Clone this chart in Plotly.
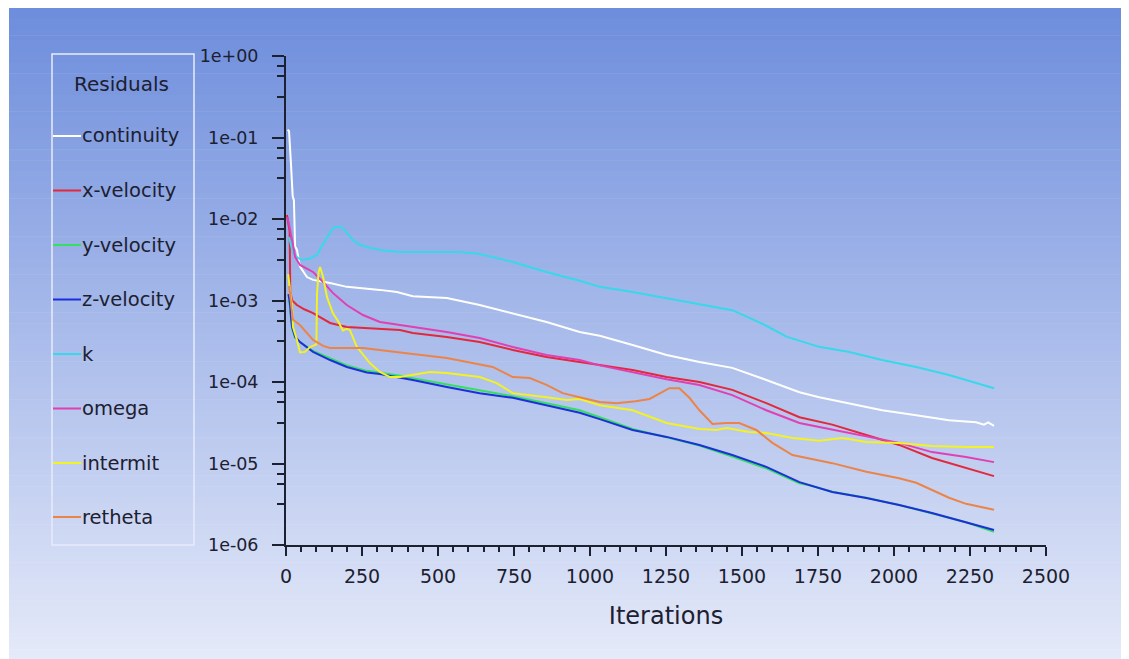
import plotly.graph_objects as go

# ---------------- data ----------------
series_names = ["continuity", "x-velocity", "y-velocity", "z-velocity",
                "k", "omega", "intermit", "retheta"]
series_colors = ["#ffffff", "#e3283c", "#33e060", "#1c2fd8",
                 "#38d8ea", "#e040b4", "#f2f224", "#ec8448"]

continuity_iter = [5, 10, 16, 22, 26, 30, 36, 46, 69, 89, 145, 200, 309, 365, 417,
                   529, 637, 746, 857, 966, 1032, 1140, 1252, 1360, 1468, 1580,
                   1689, 1754, 1853, 1961, 2073, 2181, 2270, 2296, 2310, 2329]
continuity_res = [1.24e-1, 1.2e-1, 5.0e-2, 1.9e-2, 1.7e-2, 4.6e-3, 4.2e-3, 2.6e-3,
                  1.94e-3, 1.79e-3, 1.64e-3, 1.47e-3, 1.35e-3, 1.27e-3, 1.13e-3,
                  1.07e-3, 8.8e-4, 7.0e-4, 5.45e-4, 4.1e-4, 3.7e-4, 2.85e-4,
                  2.15e-4, 1.76e-4, 1.49e-4, 1.06e-4, 7.5e-5, 6.5e-5, 5.5e-5,
                  4.5e-5, 3.9e-5, 3.4e-5, 3.2e-5, 3.0e-5, 3.2e-5, 2.9e-5]

xvel_iter = [3, 8, 12, 14, 20, 36, 60, 89, 145, 200, 309, 375, 417, 529, 637, 746,
             857, 966, 1032, 1140, 1252, 1360, 1468, 1580, 1689, 1754, 1797, 1909,
             2017, 2125, 2237, 2329]
xvel_res = [1.12e-2, 9.0e-3, 7.0e-3, 1.3e-3, 1.0e-3, 8.8e-4, 7.8e-4, 7.0e-4, 5.3e-4,
            4.73e-4, 4.47e-4, 4.35e-4, 4.0e-4, 3.56e-4, 3.1e-4, 2.47e-4, 2.03e-4,
            1.75e-4, 1.62e-4, 1.4e-4, 1.15e-4, 1.0e-4, 8.0e-5, 5.5e-5, 3.7e-5,
            3.3e-5, 3.0e-5, 2.24e-5, 1.69e-5, 1.17e-5, 8.8e-6, 7.0e-6]

yvel_iter = [8, 13, 17, 20, 30, 46, 89, 145, 200, 266, 309, 375, 417, 529, 637, 746,
             857, 966, 1032, 1140, 1252, 1360, 1468, 1580, 1689, 1721, 1797, 1909,
             2017, 2125, 2237, 2329]
yvel_res = [1.0e-3, 8.5e-4, 5.5e-4, 4.5e-4, 3.5e-4, 3.1e-4, 2.4e-4, 1.95e-4, 1.6e-4,
            1.37e-4, 1.3e-4, 1.19e-4, 1.11e-4, 9.3e-5, 7.8e-5, 6.7e-5, 5.5e-5,
            4.5e-5, 3.7e-5, 2.65e-5, 2.1e-5, 1.66e-5, 1.22e-5, 8.7e-6, 5.7e-6,
            5.4e-6, 4.5e-6, 3.8e-6, 3.1e-6, 2.45e-6, 1.9e-6, 1.45e-6]

zvel_iter = [8, 13, 17, 20, 30, 46, 89, 145, 200, 266, 309, 375, 417, 529, 637, 746,
             857, 966, 1032, 1140, 1252, 1360, 1468, 1580, 1689, 1721, 1797, 1909,
             2017, 2125, 2237, 2329]
zvel_res = [1.2e-3, 9.3e-4, 6.0e-4, 4.73e-4, 3.56e-4, 3.1e-4, 2.34e-4, 1.86e-4,
            1.53e-4, 1.31e-4, 1.25e-4, 1.14e-4, 1.06e-4, 8.7e-5, 7.3e-5, 6.4e-5,
            5.2e-5, 4.2e-5, 3.5e-5, 2.58e-5, 2.12e-5, 1.69e-5, 1.27e-5, 9.1e-6,
            5.9e-6, 5.45e-6, 4.47e-6, 3.77e-6, 3.1e-6, 2.47e-6, 1.92e-6, 1.53e-6]

k_iter = [10, 23, 40, 56, 80, 102, 120, 135, 150, 161, 175, 187, 205, 220, 240, 266,
          309, 375, 572, 637, 746, 857, 966, 1032, 1140, 1252, 1360, 1468, 1530,
          1580, 1646, 1754, 1853, 1961, 2073, 2181, 2329]
k_res = [6.0e-3, 3.83e-3, 3.3e-3, 3.14e-3, 3.3e-3, 3.62e-3, 4.8e-3, 6.0e-3, 7.3e-3,
         7.98e-3, 8.0e-3, 7.76e-3, 6.5e-3, 5.52e-3, 4.9e-3, 4.53e-3, 4.17e-3,
         3.94e-3, 3.94e-3, 3.72e-3, 2.97e-3, 2.24e-3, 1.75e-3, 1.47e-3, 1.27e-3,
         1.07e-3, 9.1e-4, 7.6e-4, 6.0e-4, 4.9e-4, 3.6e-4, 2.7e-4, 2.34e-4, 1.86e-4,
         1.53e-4, 1.22e-4, 8.4e-5]

omega_iter = [5, 12, 20, 30, 46, 89, 122, 154, 200, 253, 309, 375, 417, 529, 637,
              746, 857, 966, 1032, 1140, 1252, 1360, 1468, 1580, 1689, 1754, 1797,
              1909, 2017, 2125, 2237, 2329]
omega_res = [1.06e-2, 8.0e-3, 5.5e-3, 3.42e-3, 2.73e-3, 2.24e-3, 1.69e-3, 1.24e-3,
             8.8e-4, 6.64e-4, 5.45e-4, 5.0e-4, 4.73e-4, 4.11e-4, 3.47e-4, 2.69e-4,
             2.15e-4, 1.86e-4, 1.6e-4, 1.33e-4, 1.08e-4, 9.2e-5, 6.9e-5, 4.5e-5,
             3.14e-5, 2.8e-5, 2.6e-5, 2.12e-5, 1.79e-5, 1.38e-5, 1.2e-5, 1.04e-5]

intermit_iter = [7, 13, 20, 23, 36, 46, 62, 79, 95, 100, 102, 107, 112, 122, 135,
                 154, 171, 187, 200, 210, 233, 276, 309, 342, 375, 417, 473, 529,
                 637, 693, 746, 857, 923, 966, 1032, 1140, 1252, 1360, 1416, 1449,
                 1524, 1580, 1666, 1754, 1830, 1909, 2017, 2125, 2237, 2329]
intermit_res = [2.1e-3, 1.3e-3, 8.3e-4, 4.73e-4, 3.28e-4, 2.3e-4, 2.34e-4, 2.69e-4,
                2.85e-4, 2.9e-4, 1.2e-3, 2.2e-3, 2.58e-3, 1.94e-3, 1.1e-3, 7.0e-4,
                5.6e-4, 4.3e-4, 4.5e-4, 4.35e-4, 2.7e-4, 1.71e-4, 1.33e-4, 1.15e-4,
                1.15e-4, 1.22e-4, 1.33e-4, 1.29e-4, 1.15e-4, 9.7e-5, 7.3e-5, 6.5e-5,
                6.0e-5, 6.2e-5, 5.2e-5, 4.5e-5, 3.14e-5, 2.65e-5, 2.58e-5, 2.73e-5,
                2.44e-5, 2.37e-5, 2.06e-5, 1.9e-5, 2.06e-5, 1.84e-5, 1.79e-5,
                1.64e-5, 1.59e-5, 1.59e-5]

retheta_iter = [10, 13, 18, 23, 46, 69, 89, 122, 145, 253, 375, 417, 529, 637, 680,
                746, 802, 857, 910, 966, 1032, 1087, 1150, 1196, 1235, 1261, 1294,
                1327, 1360, 1403, 1449, 1491, 1547, 1600, 1666, 1720, 1797, 1909,
                2017, 2073, 2125, 2181, 2237, 2329]
retheta_res = [1.5e-3, 1.27e-3, 8.0e-4, 5.8e-4, 5.0e-4, 4.0e-4, 3.28e-4, 2.77e-4,
               2.61e-4, 2.61e-4, 2.27e-4, 2.21e-4, 1.97e-4, 1.66e-4, 1.53e-4,
               1.15e-4, 1.12e-4, 9.2e-5, 7.3e-5, 6.5e-5, 5.7e-5, 5.5e-5, 5.8e-5,
               6.2e-5, 7.5e-5, 8.4e-5, 8.4e-5, 6.4e-5, 4.5e-5, 3.05e-5, 3.14e-5,
               3.14e-5, 2.58e-5, 1.79e-5, 1.27e-5, 1.15e-5, 1.01e-5, 7.9e-6, 6.6e-6,
               5.8e-6, 4.7e-6, 3.8e-6, 3.2e-6, 2.7e-6]

series_iters = [continuity_iter, xvel_iter, yvel_iter, zvel_iter,
                k_iter, omega_iter, intermit_iter, retheta_iter]
series_res = [continuity_res, xvel_res, yvel_res, zvel_res,
              k_res, omega_res, intermit_res, retheta_res]

x_tick_vals = [0, 250, 500, 750, 1000, 1250, 1500, 1750, 2000, 2250, 2500]
x_tick_text = ["0", "250", "500", "750", "1000", "1250", "1500", "1750",
               "2000", "2250", "2500"]
y_tick_vals = [1e0, 1e-1, 1e-2, 1e-3, 1e-4, 1e-5, 1e-6]
y_tick_text = ["1e+00", "1e-01", "1e-02", "1e-03", "1e-04", "1e-05", "1e-06"]
legend_title = "Residuals"
x_title = "Iterations"

# ---------------- layout constants ----------------
# the page places the figure 8 px from the window's top-left corner,
# so the figure is drawn in page coordinates shifted by OFF
OFF = 8
W, H = 1129 - OFF, 659 - OFF
PLOT_L, PLOT_R, PLOT_T, PLOT_B = 286, 1046, 56, 545   # page px
ML = PLOT_L - OFF
MT = PLOT_T - OFF
MR = W - (PLOT_R - OFF)
MB = H - (PLOT_B - OFF)
PW = W - ML - MR
PH = H - MT - MB
FONT = "DejaVu Sans"
AX = "#1b2130"
TXT = "#1c2030"


def fx(px):
    """page pixel x -> paper coordinate"""
    return (px - PLOT_L) / PW


def fy(py):
    """page pixel y -> paper coordinate"""
    return (PLOT_B - py) / PH


fig = go.Figure()
for name, it, res, col in zip(series_names, series_iters, series_res, series_colors):
    fig.add_trace(go.Scatter(x=it, y=res, mode="lines", name=name,
                             line=dict(color=col, width=2), showlegend=False))

shapes = []
# vertical gradient background
top_c = (109, 141, 220)
bot_c = (229, 234, 249)
n = 120
g0, g1 = 8, 660
for i in range(n):
    a = g0 + (g1 - g0) * i / n
    b = g0 + (g1 - g0) * (i + 1) / n
    t = (i + 0.5) / n
    c = tuple(round(top_c[j] + (bot_c[j] - top_c[j]) * t) for j in range(3))
    shapes.append(dict(type="rect", xref="paper", yref="paper",
                       x0=fx(9), x1=fx(1132), y0=fy(b + 0.6), y1=fy(a),
                       fillcolor="rgb(%d,%d,%d)" % c, line=dict(width=0),
                       layer="below"))

# legend box
shapes.append(dict(type="rect", xref="paper", yref="paper",
                   x0=fx(52), x1=fx(194), y0=fy(545), y1=fy(54),
                   line=dict(color="#e6ecfb", width=1.5),
                   fillcolor="rgba(0,0,0,0)", layer="below"))

annotations = [dict(text=legend_title, x=fx(121), y=fy(84), xref="paper",
                    yref="paper", xanchor="center", yanchor="middle",
                    showarrow=False, font=dict(family=FONT, size=20, color=TXT))]
entry_y = [136, 190.5, 245, 299.5, 354, 408.5, 463, 517]
for name, col, py in zip(series_names, series_colors, entry_y):
    shapes.append(dict(type="line", xref="paper", yref="paper",
                       x0=fx(53), x1=fx(81), y0=fy(py), y1=fy(py),
                       line=dict(color=col, width=2), layer="below"))
    annotations.append(dict(text=name, x=fx(80), y=fy(py), xref="paper",
                            yref="paper", xanchor="left", yanchor="middle",
                            showarrow=False,
                            font=dict(family=FONT, size=19.5, color=TXT)))

y_minor_vals = []
for d in y_tick_vals[1:]:
    for m in (7.5, 5.62, 3.16):
        y_minor_vals.append(d * m)

fig.update_layout(
    width=W, height=H,
    margin=dict(l=ML, r=MR, t=MT, b=MB, pad=0),
    paper_bgcolor="white",
    plot_bgcolor="rgba(0,0,0,0)",
    shapes=shapes,
    annotations=annotations,
    showlegend=False,
    font=dict(family=FONT, color=TXT),
    xaxis=dict(
        range=[0, 2500], tickmode="array", tickvals=x_tick_vals,
        ticktext=x_tick_text, ticks="outside", ticklen=9, tickwidth=2,
        tickcolor=AX, showline=True, linewidth=2, linecolor=AX,
        showgrid=False, zeroline=False, automargin=False,
        ticklabelstandoff=4,
        tickfont=dict(family=FONT, size=19, color=TXT),
        minor=dict(tickmode="linear", tick0=0, dtick=50, ticks="outside",
                   ticklen=5, tickwidth=1.5, tickcolor=AX, showgrid=False),
        title=dict(text=x_title, standoff=21,
                   font=dict(family=FONT, size=24, color=TXT)),
    ),
    yaxis=dict(
        type="log", range=[-6, 0], tickmode="array", tickvals=y_tick_vals,
        ticktext=y_tick_text, ticks="outside", ticklen=12, tickwidth=2,
        tickcolor=AX, showline=True, linewidth=2, linecolor=AX,
        showgrid=False, zeroline=False, automargin=False,
        ticklabelstandoff=10,
        tickfont=dict(family=FONT, size=17.5, color=TXT),
        minor=dict(tickmode="array", tickvals=y_minor_vals, ticks="outside",
                   ticklen=7, tickwidth=1.5, tickcolor=AX, showgrid=False),
    ),
)

fig.write_html("out.html")
